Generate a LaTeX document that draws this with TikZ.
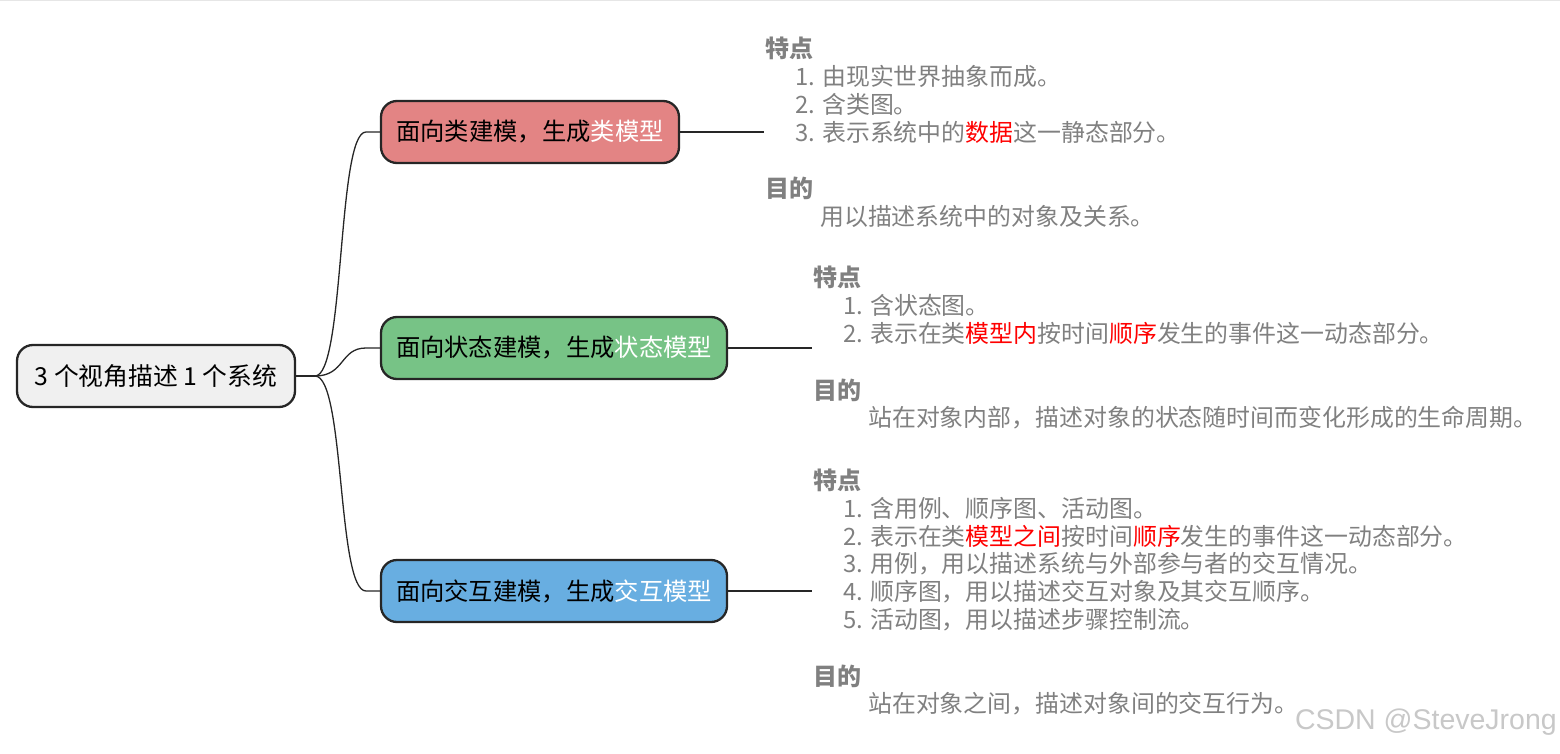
\documentclass[tikz,border=0pt]{standalone}
\usepackage{fontspec}
\setmainfont{Noto Sans CJK SC}
\newfontfamily\wmfont{Liberation Sans}
\definecolor{rootfill}{HTML}{F0F0F0}
\definecolor{redfill}{HTML}{E38484}
\definecolor{greenfill}{HTML}{77C386}
\definecolor{bluefill}{HTML}{68AEE1}
\definecolor{edgecol}{HTML}{262626}
\definecolor{txtgray}{HTML}{808080}
\definecolor{hlred}{HTML}{FF0000}
\definecolor{topline}{HTML}{E6E6E6}
\definecolor{wmgray}{HTML}{C8C8C8}
\begin{document}
\begin{tikzpicture}[x=1pt,y=1pt,
  topic/.style={draw=edgecol, line width=2.3pt, rounded corners=16pt, minimum height=62pt,
    inner xsep=0pt, inner ysep=0pt, text=black, font=\fontsize{24.3}{28}\selectfont},
  conn/.style={draw=edgecol, line width=1.3pt},
  hd/.style={anchor=west, inner sep=0pt, text=txtgray, font=\fontsize{24}{28}\selectfont\bfseries},
  bd/.style={anchor=west, inner sep=0pt, text=txtgray, font=\fontsize{23.9}{28}\selectfont}]
\useasboundingbox (0,0) rectangle (1560,-754);
\draw[topline, line width=1.5pt] (0,-0.75) -- (1560,-0.75);

% topics
\node[topic, fill=rootfill, minimum width=278pt, font=\fontsize{24.8}{28}\selectfont] (root) at (156,-376) {3 个视角描述 1 个系统};
\node[topic, fill=redfill, minimum width=298pt] (n1) at (530,-132) {面向类建模，生成\textcolor{white}{类模型}};
\node[topic, fill=greenfill, minimum width=346pt] (n2) at (554,-348) {面向状态建模，生成\textcolor{white}{状态模型}};
\node[topic, fill=bluefill, minimum width=346pt] (n3) at (554,-591) {面向交互建模，生成\textcolor{white}{交互模型}};

% connectors
\coordinate (j) at (315,-376);
\coordinate (e1) at (764,-132);
\coordinate (e2) at (812,-348);
\coordinate (e3) at (812,-591);
\draw[conn] (root.east) -- (j);
\draw[conn] (j) .. controls (345,-376) and (337,-132) .. (366,-132) -- (n1.west);
\draw[conn] (j) .. controls (345,-376) and (340,-348) .. (366,-348) -- (n2.west);
\draw[conn] (j) .. controls (345,-376) and (337,-591) .. (366,-591) -- (n3.west);
\draw[conn] (n1.east) -- (e1);
\draw[conn] (n2.east) -- (e2);
\draw[conn] (n3.east) -- (e3);

% block 1
\node[hd] (a0) at (765,-48) {特点};
\node[bd] (a1) at (795,-76) {1. 由现实世界抽象而成。};
\node[bd] (a2) at (795,-104) {2. 含类图。};
\node[bd] (a3) at (795,-132) {3. 表示系统中的\textcolor{hlred}{数据}这一静态部分。};
\node[hd] (a4) at (765,-188) {目的};
\node[bd] (a5) at (820,-216) {用以描述系统中的对象及关系。};

% block 2
\node[hd] (b0) at (813,-277) {特点};
\node[bd] (b1) at (843,-305) {1. 含状态图。};
\node[bd] (b2) at (843,-333) {2. 表示在类\textcolor{hlred}{模型内}按时间\textcolor{hlred}{顺序}发生的事件这一动态部分。};
\node[hd] (b3) at (813,-390) {目的};
\node[bd] (b4) at (868,-418) {站在对象内部，描述对象的状态随时间而变化形成的生命周期。};

% block 3
\node[hd] (c0) at (813,-480) {特点};
\node[bd] (c1) at (843,-508) {1. 含用例、顺序图、活动图。};
\node[bd] (c2) at (843,-536) {2. 表示在类\textcolor{hlred}{模型之间}按时间\textcolor{hlred}{顺序}发生的事件这一动态部分。};
\node[bd] (c3) at (843,-564) {3. 用例，用以描述系统与外部参与者的交互情况。};
\node[bd] (c4) at (843,-592) {4. 顺序图，用以描述交互对象及其交互顺序。};
\node[bd] (c5) at (843,-620) {5. 活动图，用以描述步骤控制流。};
\node[hd] (c6) at (813,-676) {目的};
\node[bd] (c7) at (868,-704) {站在对象之间，描述对象间的交互行为。};

% watermark
\node[anchor=east, inner sep=0pt, text=white, font=\wmfont\fontsize{28.5}{32}\selectfont] at (1558.5,-723.5) {CSDN @SteveJrong};
\node[anchor=east, inner sep=0pt, text=wmgray, font=\wmfont\fontsize{28.5}{32}\selectfont] (wm) at (1557,-722) {CSDN @SteveJrong};
\end{tikzpicture}
\end{document}
